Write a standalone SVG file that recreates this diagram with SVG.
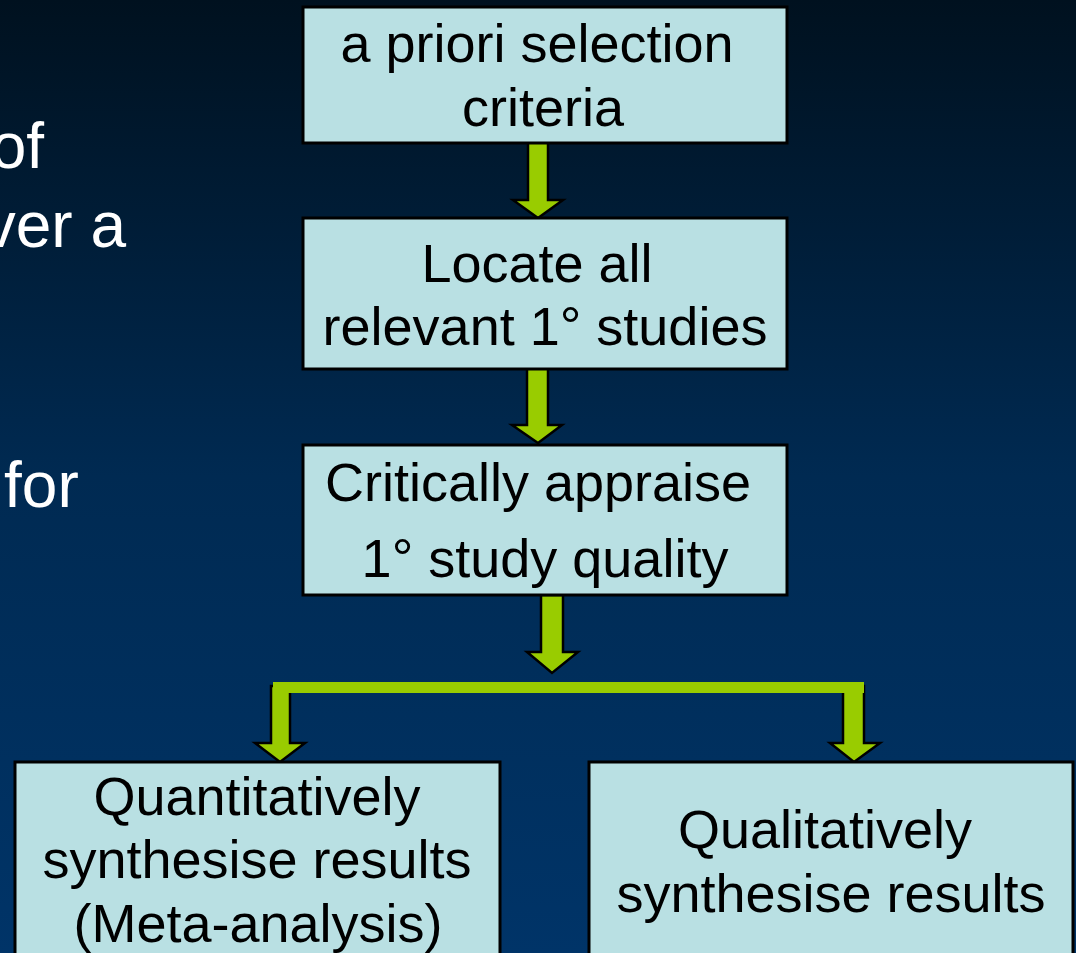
<svg xmlns="http://www.w3.org/2000/svg" width="1076" height="953" viewBox="0 0 1076 953">
<defs>
<linearGradient id="bg" x1="0" y1="0" x2="0" y2="1">
<stop offset="0" stop-color="#00111f"/>
<stop offset="0.5" stop-color="#002a52"/>
<stop offset="1" stop-color="#003468"/>
</linearGradient>
<style>
.box{fill:#b9e0e3;stroke:#000;stroke-width:3}
.t{font-family:"Liberation Sans",Arial,sans-serif;font-size:54px;fill:#000;text-anchor:middle}
.side{font-family:"Liberation Sans",Arial,sans-serif;font-size:64px;fill:#fff}
.arr{fill:#99cc00;stroke:#000;stroke-width:2.5;stroke-linejoin:miter}
.bar{fill:#99cc00}
</style>
</defs>
<rect x="0" y="0" width="1076" height="953" fill="url(#bg)"/>
<g id="side-text">
<text class="side" x="44" y="168" text-anchor="end">of</text>
<text class="side" x="126" y="247" text-anchor="end">ver a</text>
<text class="side" x="4" y="507">for</text>
</g>
<g id="connectors">
<polygon class="arr" points="528,142 548,142 548,200 563,200 538,218 513,200 528,200"/>
<polygon class="arr" points="527,368 548,368 548,425 562,425 538,443 512,425 527,425"/>
<polygon class="arr" points="541,595 563,595 563,652 578,652 552,673 527,652 541,652"/>
<polygon class="arr" points="271,686 290,686 290,743 305,743 280,762 255,743 271,743"/>
<polygon class="arr" points="843,686 864,686 864,743 880,743 854,762 830,743 843,743"/>
<rect class="bar" x="273" y="682" width="591" height="11"/>
</g>
<g id="node-criteria">
<rect class="box" x="303" y="7" width="484" height="136"/>
<text class="t" x="537" y="62">a priori selection</text>
<text class="t" x="543" y="126">criteria</text>
</g>
<g id="node-locate">
<rect class="box" x="303" y="218" width="484" height="151"/>
<text class="t" x="537" y="282">Locate all</text>
<text class="t" x="545" y="345">relevant 1° studies</text>
</g>
<g id="node-appraise">
<rect class="box" x="303" y="445" width="484" height="150"/>
<text class="t" x="538" y="501">Critically appraise</text>
<text class="t" x="545" y="577">1° study quality</text>
</g>
<g id="node-quantitative">
<rect class="box" x="15" y="762" width="485" height="210"/>
<text class="t" x="257" y="815">Quantitatively</text>
<text class="t" x="257" y="878">synthesise results</text>
<text class="t" x="258" y="942">(Meta-analysis)</text>
</g>
<g id="node-qualitative">
<rect class="box" x="589" y="762" width="484" height="210"/>
<text class="t" x="825" y="848">Qualitatively</text>
<text class="t" x="831" y="912">synthesise results</text>
</g>
</svg>
